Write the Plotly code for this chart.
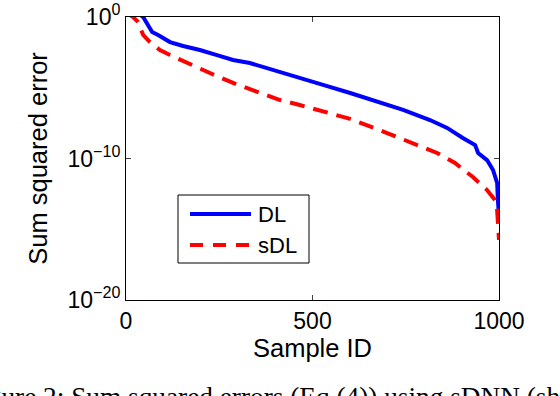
import numpy as np
import plotly.graph_objects as go

# ---- data (sample index, log10 of sum squared error) ----
dl_x = [1, 30, 46, 59, 70, 86, 118, 153, 198, 244, 287, 332, 378, 421, 466, 535, 601, 681,
        743, 815, 861, 903, 936, 944, 968, 984, 995, 997, 1000]
dl_log10 = [0.6, 0.3, 0.0, -0.57, -1.06, -1.27, -1.77, -2.05, -2.33, -2.69, -3.04, -3.25, -3.60,
            -3.96, -4.31, -4.85, -5.37, -6.01, -6.57, -7.28, -7.84, -8.55, -9.05, -9.61,
            -10.11, -10.81, -11.73, -12.9, -14.1]

sdl_x = [1, 19, 32, 46, 64, 91, 118, 164, 225, 287, 340, 413, 466, 535, 601, 700, 769, 834,
         882, 930, 968, 989, 995, 997, 1000]
sdl_log10 = [0.3, 0.0, -0.35, -1.27, -1.77, -2.33, -2.69, -3.25, -3.96, -4.66, -5.16, -5.87,
             -6.22, -6.7, -7.2, -8.2, -8.9, -9.61, -10.32, -11.31, -12.23, -12.93, -13.64,
             -15.26, -15.76]

x_ticks = [0, 500, 1000]
y_tickvals = [1e-20, 1e-10, 1e0]
y_ticktext = ["10<sup>\u221220</sup>", "10<sup>\u221210</sup>", "10<sup>0</sup>"]

series_names = ["DL", "sDL"]
series_colors = ["#0000ff", "#ff0000"]

FONT = "Liberation Sans, Arial, sans-serif"

fig = go.Figure()
fig.add_trace(go.Scatter(x=dl_x, y=np.power(10.0, dl_log10), mode="lines",
                         line=dict(color=series_colors[0], width=4), name=series_names[0],
                         showlegend=False))
fig.add_trace(go.Scatter(x=sdl_x, y=np.power(10.0, sdl_log10), mode="lines",
                         line=dict(color=series_colors[1], width=4, dash="15px,9px"),
                         name=series_names[1], showlegend=False))

# plot area: x 126..499, y 17..300 (px)
L, R, T, B = 126, 499, 17, 300
def px(xp):
    return (xp - L) / (R - L)
def py(yp):
    return (B - yp) / (B - T)

# manual legend
shapes = [dict(type="rect", xref="paper", yref="paper", x0=px(178), x1=px(309),
               y0=py(263), y1=py(195), line=dict(color="black", width=1),
               fillcolor="white", layer="above"),
          dict(type="line", xref="paper", yref="paper", x0=px(190), x1=px(251),
               y0=py(214), y1=py(214), line=dict(color=series_colors[0], width=4), layer="above"),
          dict(type="line", xref="paper", yref="paper", x0=px(190), x1=px(251),
               y0=py(245), y1=py(245), line=dict(color=series_colors[1], width=4, dash="13px,10px"),
               layer="above")]
annotations = [dict(text=series_names[0], xref="paper", yref="paper", x=px(256), y=py(214),
                    xanchor="left", yanchor="middle", showarrow=False,
                    font=dict(family=FONT, size=22, color="black")),
               dict(text=series_names[1], xref="paper", yref="paper", x=px(256), y=py(245),
                    xanchor="left", yanchor="middle", showarrow=False,
                    font=dict(family=FONT, size=22, color="black")),
               dict(text="Figure 2: Sum squared errors (Eq.(4)) using sDNN (shown",
                    xref="paper", yref="paper", x=px(-37), y=py(380),
                    xanchor="left", yanchor="top", showarrow=False,
                    font=dict(family="Liberation Serif, Times New Roman, serif", size=27.3,
                              color="black"))]

fig.update_layout(
    width=560, height=396,
    margin=dict(l=L, r=560 - R, t=T, b=396 - B, pad=0, autoexpand=False),
    paper_bgcolor="white", plot_bgcolor="white",
    font=dict(family=FONT, size=23, color="black"),
    shapes=shapes, annotations=annotations,
    xaxis=dict(range=[0, 1000], tickvals=x_ticks, ticks="inside", ticklen=5,
               showline=True, linecolor="black", linewidth=1, mirror="allticks",
               showgrid=False, zeroline=False, tickfont=dict(size=23), automargin=False,
               title=dict(text="Sample ID", font=dict(size=25.5), standoff=4)),
    yaxis=dict(type="log", range=[-20, 0], tickvals=y_tickvals, ticktext=y_ticktext,
               ticks="inside", ticklen=5, showline=True, linecolor="black", linewidth=1,
               mirror="allticks", showgrid=False, zeroline=False, tickfont=dict(size=23),
               automargin=False,
               title=dict(text="Sum squared error", font=dict(size=25.5), standoff=12)),
)

fig.write_html("out.html", config={"displayModeBar": False},
               post_script="document.body.style.margin='0';document.body.style.overflow='hidden';")
